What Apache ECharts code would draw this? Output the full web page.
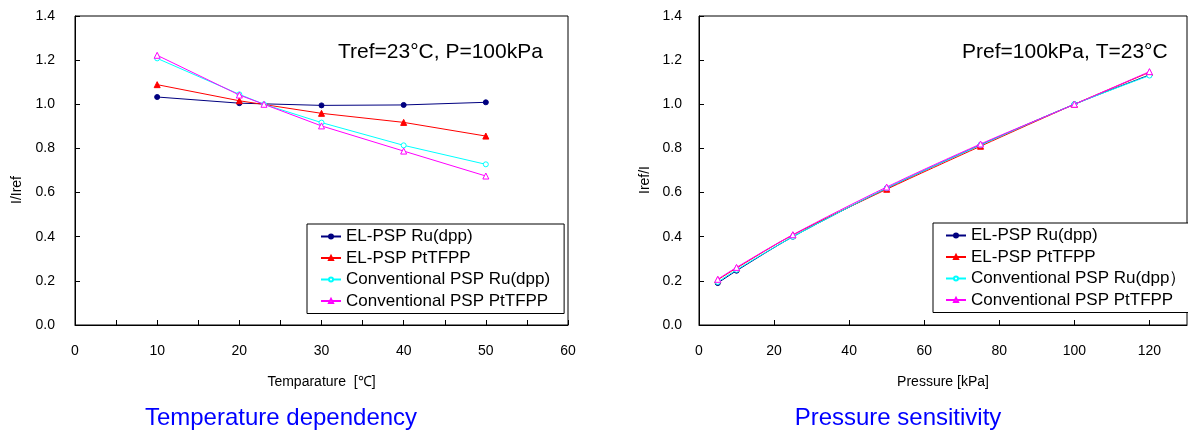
<!DOCTYPE html>
<html>
<head>
<meta charset="utf-8">
<script src="https://cdn.jsdelivr.net/npm/echarts@6/dist/echarts.min.js"></script>
<style>
html,body{margin:0;padding:0;background:#fff;}
#chart{width:1188px;height:434px;}
</style>
</head>
<body>
<div id="chart"></div>
<script>
// ---- Temperature dependency data ----
const tempNames = ['EL-PSP Ru(dpp)', 'EL-PSP PtTFPP', 'Conventional PSP Ru(dpp)', 'Conventional PSP PtTFPP'];
const tempX_EL = [10, 20, 30, 40, 50];
const tempX_CONV = [10, 20, 23, 30, 40, 50];
const tempElRu = [1.033, 1.005, 0.995, 0.997, 1.009];
const tempElPt = [1.089, 1.016, 0.959, 0.918, 0.856];
const tempConvRu = [1.208, 1.045, 1.0, 0.917, 0.814, 0.728];
const tempConvPt = [1.222, 1.042, 1.0, 0.902, 0.788, 0.675];

// ---- Pressure sensitivity data ----
const presNames = ['EL-PSP Ru(dpp)', 'EL-PSP PtTFPP', 'Conventional PSP Ru(dpp）', 'Conventional PSP PtTFPP'];
const presX = [5, 10, 25, 50, 75, 100, 120];
const presElRu = [0.190, 0.246, 0.400, 0.619, 0.816, 1.0, 1.133];
const presElPt = [0.205, 0.258, 0.408, 0.615, 0.810, 1.0, 1.145];
const presConvRu = [0.195, 0.250, 0.400, 0.620, 0.815, 1.0, 1.130];
const presConvPt = [0.207, 0.261, 0.409, 0.625, 0.820, 1.0, 1.148];

const yTicks = [0, 0.2, 0.4, 0.6, 0.8, 1.0, 1.2, 1.4];

const FONT = "'Liberation Sans', Arial, sans-serif";
const colors = ['#000080', '#ff0000', '#00ffff', '#ff00ff'];
const symbols = ['circle', 'triangle', 'circle', 'triangle'];
const symFill = ['#000080', '#ff0000', '#ffffff', '#ffffff'];
const symSize = [5, 6, 5, 6];

function pairs(xs, ys) { return xs.map((x, i) => [x, ys[i]]); }

function mkSeries(name, idx, data, axisIdx, smooth) {
  return {
    name: name, type: 'line', xAxisIndex: axisIdx, yAxisIndex: axisIdx,
    data: data, smooth: smooth, symbol: symbols[idx], symbolSize: symSize[idx],
    showSymbol: true,
    lineStyle: { color: colors[idx], width: 1 },
    itemStyle: { color: symFill[idx], borderColor: colors[idx], borderWidth: 1 },
    emphasis: { disabled: true },
    animation: false, z: 2 + idx
  };
}

const axisText = { color: '#000', fontSize: 14, fontFamily: FONT };

function yAxisCfg(gi, margin) {
  return {
    type: 'value', gridIndex: gi, min: 0, max: 1.4, interval: 0.2,
    axisLine: { show: true, lineStyle: { color: '#000', width: 1 } },
    axisTick: { show: true, inside: true, length: 5, lineStyle: { color: '#000' } },
    axisLabel: Object.assign({ margin: margin, formatter: v => v.toFixed(1) }, axisText),
    splitLine: { show: false }
  };
}

const option = {
  backgroundColor: '#fff',
  animation: false,
  grid: [
    { left: 75, top: 16, width: 493, height: 309, show: true, borderColor: '#000', borderWidth: 1 },
    { left: 699, top: 16, width: 488, height: 309, show: true, borderColor: '#000', borderWidth: 1 }
  ],
  xAxis: [
    {
      type: 'value', gridIndex: 0, min: 0, max: 60, interval: 5,
      name: 'Temparature  [\u2103]', nameLocation: 'middle', nameGap: 50,
      nameTextStyle: axisText,
      axisLine: { show: true, lineStyle: { color: '#000', width: 1 } },
      axisTick: { show: true, inside: true, length: 5, lineStyle: { color: '#000' } },
      axisLabel: Object.assign({ margin: 19, formatter: v => (v % 10 === 0 ? String(v) : '') }, axisText),
      splitLine: { show: false }
    },
    {
      type: 'value', gridIndex: 1, min: 0, max: 130, interval: 20,
      name: 'Pressure [kPa]', nameLocation: 'middle', nameGap: 50,
      nameTextStyle: axisText,
      axisLine: { show: true, lineStyle: { color: '#000', width: 1 } },
      axisTick: { show: true, inside: true, length: 5, lineStyle: { color: '#000' } },
      axisLabel: Object.assign({ margin: 19, showMaxLabel: false }, axisText),
      splitLine: { show: false }
    }
  ],
  yAxis: [ yAxisCfg(0, 20), yAxisCfg(1, 17) ],
  legend: [
    {
      data: tempNames, orient: 'vertical', left: 307, top: 224,
      backgroundColor: '#fff', borderColor: '#000', borderWidth: 1,
      padding: [4, 14, 4, 13], itemGap: 4.5, itemWidth: 20, itemHeight: 5, itemTextGap: 2,
      textStyle: { color: '#000', fontSize: 17, fontFamily: FONT },
      selectedMode: false
    },
    {
      data: presNames, orient: 'vertical', left: 933, top: 223,
      backgroundColor: '#fff', borderColor: '#000', borderWidth: 1,
      padding: [4, 12, 4, 12], itemGap: 4.5, itemWidth: 20, itemHeight: 5, itemTextGap: 2,
      textStyle: { color: '#000', fontSize: 17, fontFamily: FONT },
      selectedMode: false
    }
  ],
  series: [
    mkSeries(tempNames[0], 0, pairs(tempX_EL, tempElRu), 0, false),
    mkSeries(tempNames[1], 1, pairs(tempX_EL, tempElPt), 0, false),
    mkSeries(tempNames[2], 2, pairs(tempX_CONV, tempConvRu), 0, false),
    mkSeries(tempNames[3], 3, pairs(tempX_CONV, tempConvPt), 0, false),
    mkSeries(presNames[0], 0, pairs(presX, presElRu), 1, 0.3),
    mkSeries(presNames[1], 1, pairs(presX, presElPt), 1, 0.3),
    mkSeries(presNames[2], 2, pairs(presX, presConvRu), 1, 0.3),
    mkSeries(presNames[3], 3, pairs(presX, presConvPt), 1, 0.3)
  ],
  graphic: [
    { type: 'text', left: 338, top: 42, style: { text: 'Tref=23\u00b0C, P=100kPa', fill: '#000', font: '21px ' + FONT } },
    { type: 'text', left: 962, top: 42, style: { text: 'Pref=100kPa, T=23\u00b0C', fill: '#000', font: '21px ' + FONT } },
    { type: 'text', x: 281, y: 418, style: { text: 'Temperature dependency', fill: '#0000ff', font: '24px ' + FONT, textAlign: 'center', textVerticalAlign: 'middle' } },
    { type: 'text', x: 898, y: 418, style: { text: 'Pressure sensitivity', fill: '#0000ff', font: '24px ' + FONT, textAlign: 'center', textVerticalAlign: 'middle' } },
    { type: 'text', x: 17, y: 190, rotation: Math.PI / 2, style: { text: 'I/Iref', fill: '#000', font: '14px ' + FONT, textAlign: 'center', textVerticalAlign: 'middle' } },
    { type: 'text', x: 645, y: 180, rotation: Math.PI / 2, style: { text: 'Iref/I', fill: '#000', font: '14px ' + FONT, textAlign: 'center', textVerticalAlign: 'middle' } }
  ]
};

const chart = echarts.init(document.getElementById('chart'), null, { renderer: 'canvas' });
chart.setOption(option);
</script>
</body>
</html>
